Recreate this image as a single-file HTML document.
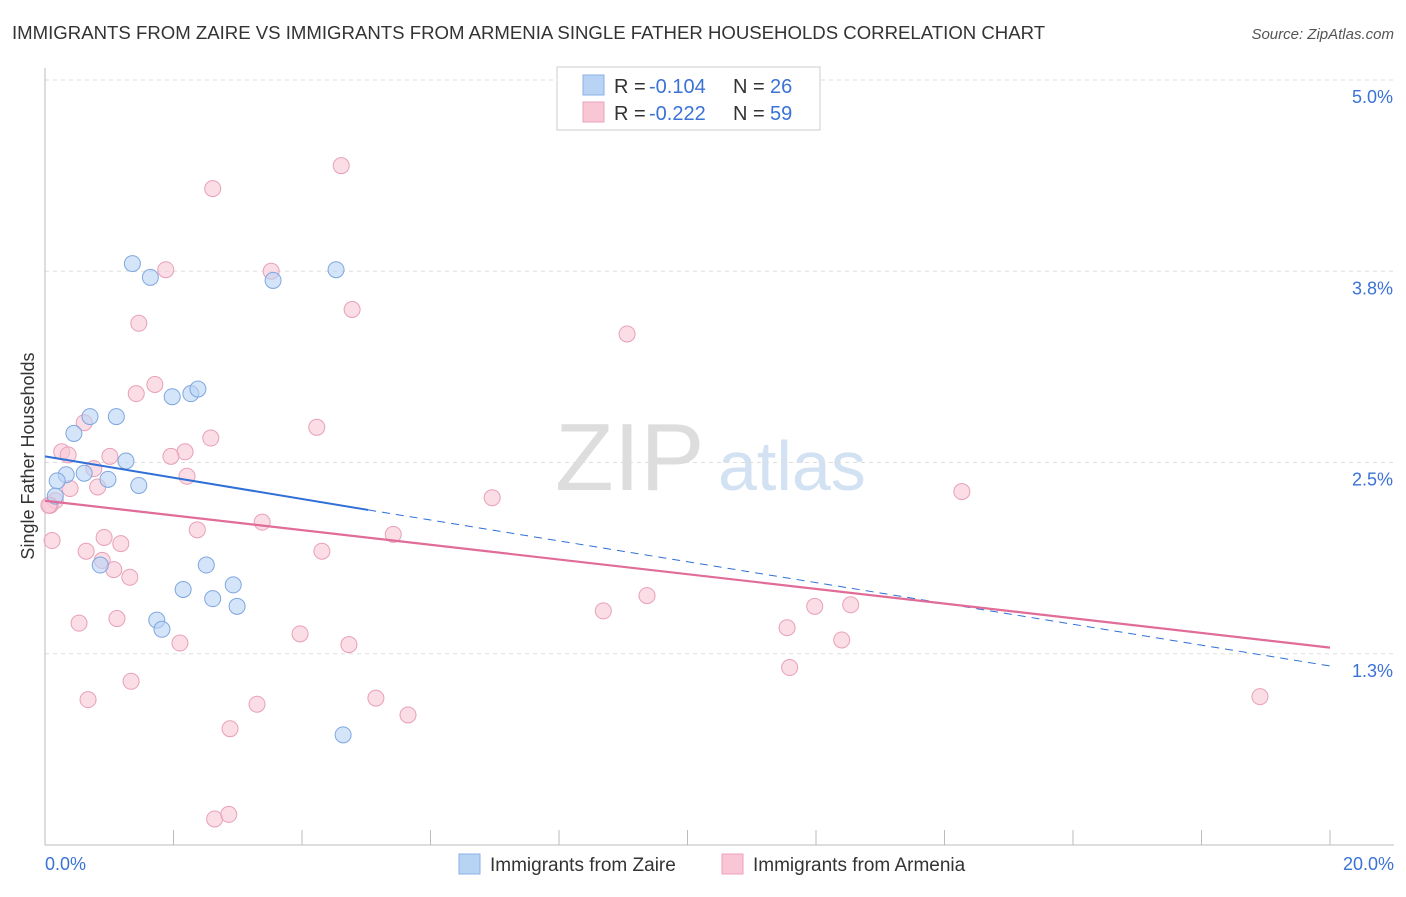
<!DOCTYPE html>
<html><head><meta charset="utf-8"><style>
body{margin:0;background:#fff;font-family:"Liberation Sans",sans-serif;}
svg text{font-family:"Liberation Sans",sans-serif;}
</style></head><body>
<svg id="chart" width="1406" height="892">
<text x="12" y="39" font-size="18.6" fill="#333">IMMIGRANTS FROM ZAIRE VS IMMIGRANTS FROM ARMENIA SINGLE FATHER HOUSEHOLDS CORRELATION CHART</text>
<text x="1394" y="39" font-size="15" fill="#555" font-style="italic" text-anchor="end">Source: ZipAtlas.com</text>
<text x="555" y="490" font-size="96" fill="#ddd" font-family="Liberation Serif">ZIP</text>
<text x="718" y="490" font-size="70" fill="#d3e2f3">atlas</text>
<text transform="translate(34,456) rotate(-90)" font-size="18" fill="#333" text-anchor="middle">Single Father Households</text>
<g id="grid"></g><g id="marks"></g>
<g>
<rect x="557" y="67" width="263" height="63" fill="#fff" stroke="#ccc"/>
<rect x="583" y="75" width="21" height="20" fill="#b9d3f5" stroke="#8ab0e6"/>
<rect x="583" y="102" width="21" height="20" fill="#f8c6d5" stroke="#eea2bb"/>
<text x="614" y="93" font-size="20" fill="#333">R =</text>
<text x="649" y="93" font-size="20" fill="#3a72d6">-0.104</text>
<text x="733" y="93" font-size="20" fill="#333">N =</text>
<text x="770" y="93" font-size="20" fill="#3a72d6">26</text>
<text x="614" y="120" font-size="20" fill="#333">R =</text>
<text x="649" y="120" font-size="20" fill="#3a72d6">-0.222</text>
<text x="733" y="120" font-size="20" fill="#333">N =</text>
<text x="770" y="120" font-size="20" fill="#3a72d6">59</text>
</g>
<g>
<rect x="459" y="854" width="21" height="20" fill="#b9d3f5" stroke="#8ab0e6"/>
<text x="490" y="871" font-size="19" fill="#333">Immigrants from Zaire</text>
<rect x="722" y="854" width="21" height="20" fill="#f8c6d5" stroke="#eea2bb"/>
<text x="753" y="871" font-size="19" fill="#333">Immigrants from Armenia</text>
</g>
</svg>
<script>
const yTicks=[1.25,2.5,3.75,5.0];
const yTickLabels=["1.3%","2.5%","3.8%","5.0%"];
const xTickLabels=["0.0%","20.0%"];
const zaireX=[1.36,1.64,3.55,4.53,1.98,2.27,2.38,0.70,1.11,0.45,1.26,0.33,0.61,0.19,0.98,1.46,0.16,0.86,2.51,2.15,2.93,2.61,2.99,1.74,1.82,4.64];
const zaireY=[3.80,3.71,3.69,3.76,2.93,2.95,2.98,2.80,2.80,2.69,2.51,2.42,2.43,2.38,2.39,2.35,2.28,1.83,1.83,1.67,1.70,1.61,1.56,1.47,1.41,0.72];
const armX=[4.61,2.61,1.88,3.52,4.78,1.46,9.06,1.71,1.42,0.61,4.23,2.58,0.26,2.18,1.01,1.96,0.36,0.76,2.21,0.39,0.82,6.96,14.27,0.16,0.08,3.38,2.37,5.42,0.11,0.92,1.18,0.64,4.31,0.89,1.07,1.32,9.37,8.69,11.98,12.54,0.53,1.12,3.97,11.55,12.40,2.10,4.73,1.34,11.59,0.67,5.15,3.30,5.65,18.91,2.88,2.64,2.86,0.06];
const armY=[4.44,4.29,3.76,3.75,3.50,3.41,3.34,3.01,2.95,2.76,2.73,2.66,2.57,2.57,2.54,2.54,2.55,2.46,2.41,2.33,2.34,2.27,2.31,2.25,2.22,2.11,2.06,2.03,1.99,2.01,1.97,1.92,1.92,1.86,1.80,1.75,1.63,1.53,1.56,1.57,1.45,1.48,1.38,1.42,1.34,1.32,1.31,1.07,1.16,0.95,0.96,0.92,0.85,0.97,0.76,0.17,0.20,2.22];
const W=1406,x=v=>45+v/20*1285,y=v=>845-v*153;
const NS="http://www.w3.org/2000/svg";
function mk(t,a,p){const e=document.createElementNS(NS,t);for(const k in a)e.setAttribute(k,a[k]);p.appendChild(e);return e;}
const g=document.getElementById('grid'),m=document.getElementById('marks');
yTicks.forEach((v,i)=>{
 const l=mk('line',{x1:45,x2:1394,y1:y(v),y2:y(v),stroke:'#ddd','stroke-dasharray':'4,4'},g);
 
 
 const t=mk('text',{x:1393,y:y(v)+23,'font-size':18,fill:'#3a72d6','text-anchor':'end'},g);t.textContent=yTickLabels[i];
 
 
});
const ax=mk('line',{x1:45,x2:1394,y1:845,y2:845,stroke:'#bbb'},g);


const ay=mk('line',{x1:45,x2:45,y1:68,y2:845,stroke:'#bbb'},g);


for(let i=0;i<=10;i++){const t=mk('line',{x1:x(i*2),x2:x(i*2),y1:830,y2:845,stroke:'#bbb'},g);
 
 }
[[0,45,'start'],[20,1394,'end']].forEach((d,i)=>{const t=mk('text',{x:d[1],y:870,'font-size':18,fill:'#3a72d6','text-anchor':d[2]},g);t.textContent=xTickLabels[i];
 
 });
armX.forEach((v,i)=>{const c=mk('circle',{cx:x(v),cy:y(armY[i]),r:8,fill:'#f8c6d5','fill-opacity':0.6,stroke:'#e8a0b8'},m);
 
 });
zaireX.forEach((v,i)=>{const c=mk('circle',{cx:x(v),cy:y(zaireY[i]),r:8,fill:'#b9d3f5','fill-opacity':0.6,stroke:'#7ea6df'},m);
 
 });
const bl=mk('line',{x1:x(0),y1:y(2.54),x2:x(5.03),y2:y(2.19),stroke:'#2f6fd6','stroke-width':2},m);


const bd=mk('line',{x1:x(5.03),y1:y(2.19),x2:x(20),y2:y(1.17),stroke:'#2f6fd6','stroke-width':1,'stroke-dasharray':'8,6'},m);


const pl=mk('line',{x1:x(0),y1:y(2.25),x2:x(20),y2:y(1.29),stroke:'#e06c97','stroke-width':2.2},m);


</script>
</body></html>
